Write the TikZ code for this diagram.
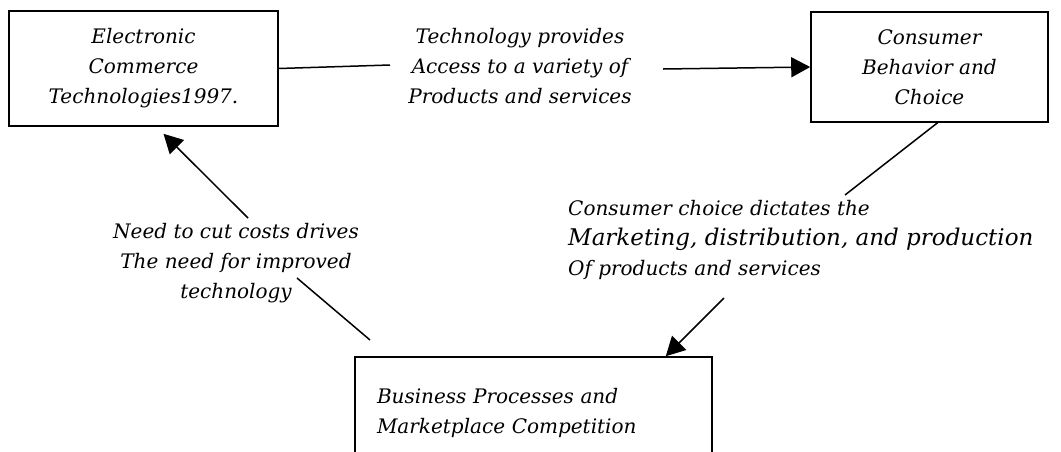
\documentclass[tikz,border=0pt]{standalone}
\usepackage{fontspec}
\setmainfont{DejaVu Serif}
\usetikzlibrary{%
    arrows.meta,%
    positioning
    }
\tikzset{
  box2/.style={
    rectangle,
    draw=black,
    line width=1.6pt,
    align=center,
    font=\itshape\fontsize{20}{30}\selectfont,
  },
  label2/.style={
    align=center,
    inner sep=0pt,
    font=\itshape\fontsize{20}{30}\selectfont,
  },
  line2/.style={
    line width=1.5pt,
  },
  arrow2/.style={
    line2,
    -{Triangle[length=19pt,width=20pt]},
  },
}

\begin{document}
\begin{tikzpicture}[x=1pt,y=-1pt]
\clip (0,0) rectangle (1061,451);
\node[box2,minimum width=269pt,minimum height=115pt]
  (ect) at (143.5,68.5)
  {Electronic\\Commerce\\Technologies1997.};
\node[box2,minimum width=237pt,minimum height=110pt]
  (cbc) at (929.5,67)
  {Consumer\\Behavior and\\Choice};
\node[box2,minimum width=357pt,minimum height=112pt,
      text width=313pt,align=left,inner xsep=22pt]
  (bpm) at (533.5,413)
  {Business Processes and\\Marketplace Competition};

% labels on the connectors
\node[label2] (tech) at (520,66)
  {Technology provides\\Access to a variety of\\Products and services};
\node[label2,align=left,anchor=west] (cons) at (568,240)
  {Consumer choice dictates the\\
   {\fontsize{23}{30}\selectfont Marketing, distribution, and production}\\
   Of products and services};
\node[label2] (need) at (236,263)
  {Need to cut costs drives\\The need for improved\\technology};

% free ends of the broken connectors
\coordinate (t1) at (390,65);
\coordinate (t2) at (663,69);
\coordinate (c1) at (845,195);
\coordinate (c2) at (724,298);
\coordinate (n1) at (370,340);
\coordinate (n2) at (297,278);
\coordinate (n3) at (248,218);

\draw[line2] (ect.east) -- (t1);
\draw[arrow2] (t2) -- (cbc.west);
\draw[line2] ([xshift=8pt]cbc.south) -- (c1);
\draw[arrow2] (c2) -- ([xshift=-47pt]bpm.north east);
\draw[line2] (n1) -- (n2);
\draw[arrow2] (n3) -- ([xshift=20pt,yshift=-7pt]ect.south);
\end{tikzpicture}
\end{document}
